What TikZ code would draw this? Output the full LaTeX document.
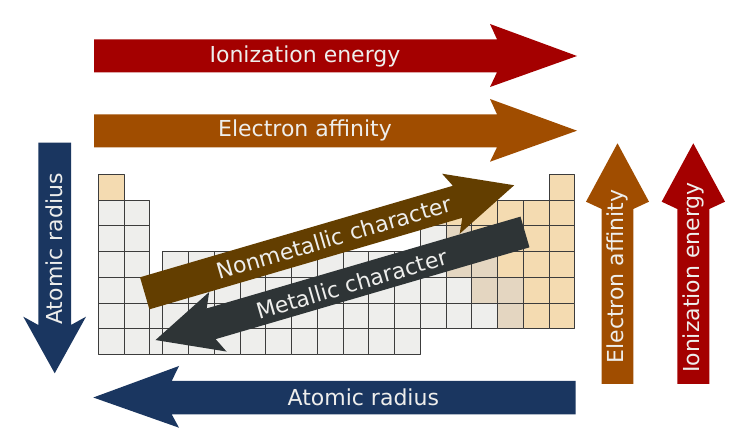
\documentclass[tikz,border=0pt]{standalone}
\usepackage{fontspec}
\setmainfont{DejaVu Sans}
\begin{document}
\begin{tikzpicture}[x=1pt,y=1pt,
  trendLabel/.style={text=textColor,inner sep=0pt,outer sep=0pt,font=\fontsize{22}{26}\selectfont},
  cell/.style={draw=gridColor,line width=0.7pt,line join=round}]
\definecolor{fillColor}{RGB}{255,255,255}
\definecolor{ieColor}{RGB}{164,0,0}
\definecolor{eaColor}{RGB}{160,77,0}
\definecolor{arColor}{RGB}{26,54,96}
\definecolor{nmColor}{RGB}{99,62,0}
\definecolor{mcColor}{RGB}{46,52,54}
\definecolor{textColor}{RGB}{238,238,236}
\definecolor{metalColor}{RGB}{238,238,236}
\definecolor{nonmetalColor}{RGB}{244,219,177}
\definecolor{semiColor}{RGB}{228,214,193}
\definecolor{gridColor}{RGB}{60,60,60}
\path[use as bounding box,fill=fillColor] (0,0) rectangle (729,434);

% periodic table
\foreach \p in {2,...,7}
  \foreach \c in {1,2}
    \path[cell,fill=metalColor] ({98.3+(\c-1)*25.75},{259.7-\p*25.75}) rectangle +(25.75,25.75);
\foreach \p in {6,7}
  \path[cell,fill=metalColor] (149.8,{259.7-\p*25.75}) rectangle +(12.875,25.75);
\foreach \p in {4,...,7}
  \foreach \c in {3,...,12}
    \path[cell,fill=metalColor] ({98.3+(\c-0.5)*25.75},{259.7-\p*25.75}) rectangle +(25.75,25.75);
\foreach \c/\p in {13/3,13/4,13/5,13/6,14/5,14/6,15/6}
  \path[cell,fill=metalColor] ({98.3+(\c-0.5)*25.75},{259.7-\p*25.75}) rectangle +(25.75,25.75);
\foreach \c/\p in {13/2,14/3,14/4,15/4,15/5,16/5,16/6}
  \path[cell,fill=semiColor] ({98.3+(\c-0.5)*25.75},{259.7-\p*25.75}) rectangle +(25.75,25.75);
\foreach \c/\p in {18/1,14/2,15/2,16/2,17/2,18/2,15/3,16/3,17/3,18/3,16/4,17/4,18/4,17/5,18/5,17/6,18/6}
  \path[cell,fill=nonmetalColor] ({98.3+(\c-0.5)*25.75},{259.7-\p*25.75}) rectangle +(25.75,25.75);
\path[cell,fill=nonmetalColor] (98.3,233.95) rectangle +(25.75,25.75);

% horizontal arrows
\path[fill=ieColor] ( 94.0,361.7) -- (497.0,361.7) -- (490.0,347.0) -- (577.0,378.0) --
	(490.0,410.0) -- (497.0,394.7) -- ( 94.0,394.7) -- cycle;
\node[trendLabel] (ieTop) at (305.0,378.0) {Ionization energy};

\path[fill=eaColor] ( 94.0,286.7) -- (497.0,286.7) -- (490.0,272.3) -- (577.0,303.3) --
	(490.0,335.0) -- (497.0,319.7) -- ( 94.0,319.7) -- cycle;
\node[trendLabel] (eaTop) at (305.0,303.3) {Electron affinity};

\path[fill=arColor] (575.7, 19.7) -- (171.7, 19.7) -- (179.0,  6.3) -- ( 93.3, 36.5) --
	(179.0, 68.0) -- (171.7, 53.0) -- (575.7, 53.0) -- cycle;
\node[trendLabel] (arBottom) at (363.3, 36.5) {Atomic radius};

% vertical arrows
\path[fill=arColor] ( 38.3,291.3) -- ( 71.0,291.3) -- ( 71.0,109.0) -- ( 86.0,117.3) --
	( 54.7, 60.7) -- ( 23.3,117.3) -- ( 38.3,109.0) -- cycle;
\node[trendLabel,rotate=90] (arLeft) at ( 54.7,185.0) {Atomic radius};

\path[fill=eaColor] (601.7, 50.0) -- (633.3, 50.0) -- (633.3,225.0) -- (649.0,232.3) --
	(617.5,290.7) -- (586.0,232.3) -- (601.7,225.0) -- cycle;
\node[trendLabel,rotate=90] (eaRight) at (617.5,157.3) {Electron affinity};

\path[fill=ieColor] (677.3, 50.0) -- (709.3, 50.0) -- (709.3,225.0) -- (725.0,232.3) --
	(693.3,290.7) -- (661.7,232.3) -- (677.3,225.0) -- cycle;
\node[trendLabel,rotate=90] (ieRight) at (693.3,156.5) {Ionization energy};

% diagonal arrows
\begin{scope}[shift={(144.7,140.7)},rotate=16.3]
\path[fill=nmColor] (0,-16.7) -- (326,-16.7) -- (319,-31.3) -- (385,0) --
	(319,31.3) -- (326,16.7) -- (0,16.7) -- cycle;
\end{scope}
\node[trendLabel,rotate=16.3] (nonmet) at (334.0,196.5) {Nonmetallic character};

\begin{scope}[shift={(525.0,202.0)},rotate=196.3]
\path[fill=mcColor] (0,-16.0) -- (327,-16.0) -- (320,-31.0) -- (385,0) --
	(320,31.0) -- (327,16.0) -- (0,16.0) -- cycle;
\end{scope}
\node[trendLabel,rotate=16.3] (met) at (351.7,150.0) {Metallic character};
\end{tikzpicture}
\end{document}
